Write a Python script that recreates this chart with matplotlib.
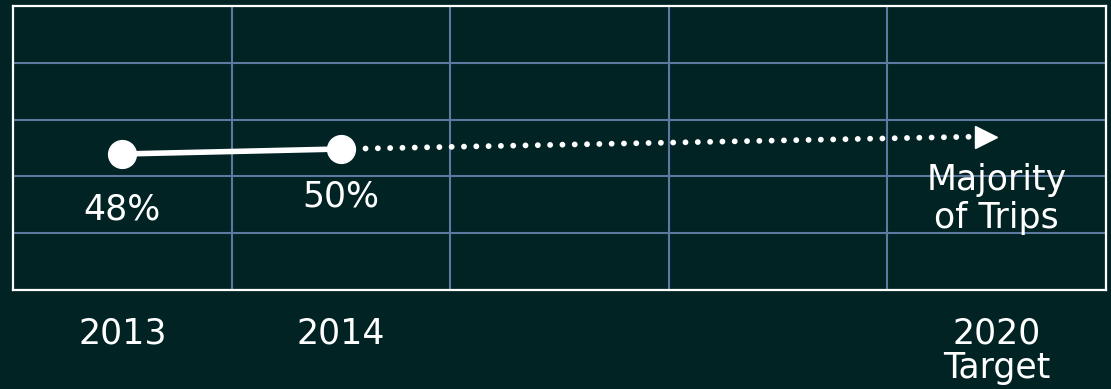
import matplotlib.pyplot as plt
import numpy as np

# share of trips (%)
years = ['2013', '2014', '2020\nTarget']
x_pos = [0, 1, 4]
actual = [48, 50]
actual_labels = ['48%', '50%']
target = 55
target_label = 'Majority\nof Trips'

bg = '#022323'
grid_c = '#5d79a0'

plt.rcParams['font.family'] = ['DejaVu Sans']

fig = plt.figure(figsize=(11.11, 3.89), dpi=100, facecolor=bg)
ax = fig.add_axes([13 / 1111, 1 - 290 / 389, 1093 / 1111, 284 / 389])
ax.set_facecolor(bg)

ymin, ymax = -6.4, 107.2
ax.set_xlim(-0.5, 4.5)
ax.set_ylim(ymin, ymax)

# grid on minor ticks
ax.set_xticks([0.5, 1.5, 2.5, 3.5], minor=True)
ax.set_yticks(np.linspace(ymin, ymax, 6)[1:-1], minor=True)
ax.grid(which='minor', color=grid_c, linewidth=1.5)
ax.set_yticks([])
ax.set_xticks(x_pos)
ax.set_xticklabels(years, color='white', fontsize=25, linespacing=1.02)
ax.tick_params(axis='x', which='both', length=0, pad=19)
ax.tick_params(axis='y', which='both', length=0)
for s in ax.spines.values():
    s.set_color('white')
    s.set_linewidth(1.6)

# dotted projection to target
ax.plot([x_pos[1], x_pos[2] - 0.06], [actual[1], target], color='white', lw=4.2,
        linestyle=(0, (0.01, 2.1)), dash_capstyle='round', zorder=3)
ax.plot([x_pos[2] - 0.05], [target], marker='>', color='white', markersize=16,
        linestyle='none', zorder=4)

# actual values
ax.plot(x_pos[:2], actual, color='white', lw=4, marker='o', markersize=20,
        solid_capstyle='round', zorder=5)

offs = [-40, -34]
for xp, v, lab, o in zip(x_pos[:2], actual, actual_labels, offs):
    ax.annotate(lab, (xp, v), xytext=(0, o), textcoords='offset points',
                ha='center', va='center', color='white', fontsize=25)
ax.annotate(target_label, (x_pos[2], target), xytext=(0, -45), textcoords='offset points',
            ha='center', va='center', color='white', fontsize=25, linespacing=1.12)

fig.savefig('out.png', dpi=100, facecolor=bg)
